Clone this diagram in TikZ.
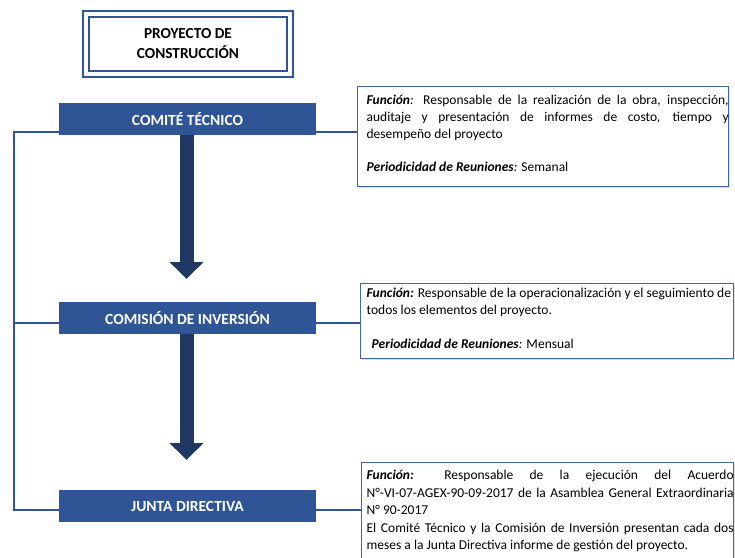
\documentclass[tikz,border=0pt]{standalone}
\usepackage{fontspec}
\setmainfont{Carlito}
\usetikzlibrary{arrows.meta,shadows}
\definecolor{hdblue}{HTML}{2F5597}
\definecolor{arrowblue}{HTML}{1F3864}
\definecolor{boxline}{HTML}{41689E}
\newcommand{\boxsetup}[1]{\hyphenpenalty=10000\exhyphenpenalty=10000\fontsize{13.5}{#1}\selectfont\parindent=0pt\leftskip=9pt\rightskip=0pt}
\begin{document}
\begin{tikzpicture}[x=1pt,y=-1pt,
  hdbox/.style={fill=hdblue, text=white, font=\fontsize{15.5}{17}\selectfont\bfseries, minimum width=257pt, minimum height=32pt, inner sep=0pt},
  titlebox/.style={draw=hdblue, line width=2pt, double=white, double distance=4pt, minimum width=204pt, minimum height=60pt, align=center, font=\fontsize{15.3}{20}\selectfont\bfseries, inner sep=0pt},
  link/.style={draw=hdblue, line width=2.7pt},
  bigarrow/.style={draw=arrowblue, line width=14pt, -{Triangle[width=33pt,length=17pt]}},
  infobox/.style={draw=boxline, line width=1.3pt, anchor=north west, inner sep=0pt, fill=white, drop shadow={shadow xshift=1pt, shadow yshift=-1.2pt, opacity=0.25}}
]
\useasboundingbox (0,0) rectangle (735,557);

\node[titlebox] (title) at (188,43.5) {PROYECTO DE\\CONSTRUCCIÓN};

\node[hdbox] (ct) at (187.5,119) {COMITÉ TÉCNICO};
\node[hdbox] (ci) at (187.5,318) {COMISIÓN DE INVERSIÓN};
\node[hdbox] (jd) at (187.5,506) {JUNTA DIRECTIVA};

\coordinate (a1) at (186.5,279);
\coordinate (a2) at (186.5,460);
\draw[bigarrow] (ct.south -| a1) -- (a1);
\draw[bigarrow] (ci.south -| a2) -- (a2);

\node[infobox] (i1) at (357,86) {\begin{minipage}[c][100pt][t]{400pt}\boxsetup{16.7}\hsize=371pt
\leavevmode\rule{0pt}{18pt}\textbf{\textit{Función}}\textit{:} Responsable de la realización de la obra, inspección,\linebreak auditaje y presentación de informes de costo, tiempo y\linebreak desempeño del proyecto\par
\leavevmode\par
\textbf{\textit{Periodicidad de Reuniones}}\textit{:} Semanal\par
\end{minipage}};

\node[infobox] (i2) at (360,283) {\begin{minipage}[c][75pt][t]{400pt}\boxsetup{17}\hsize=373pt\leftskip=6pt
\leavevmode\rule{0pt}{14pt}\textbf{\textit{Función:}} Responsable de la operacionalización y el seguimiento de\\ todos los elementos del proyecto.\par
\leavevmode\par
\hspace*{5pt}\textbf{\textit{Periodicidad de Reuniones}}\textit{:} Mensual\par
\end{minipage}};

\node[infobox] (i3) at (361,462) {\begin{minipage}[c][140pt][t]{400pt}\boxsetup{17.5}\hsize=372pt\leftskip=5pt
\leavevmode\rule{0pt}{17pt}\textbf{\textit{Función:}} Responsable de la ejecución del Acuerdo\linebreak N°-VI-07-AGEX-90-09-2017 de la Asamblea General Extraordinaria\linebreak N° 90-2017\par
El Comité Técnico y la Comisión de Inversión presentan cada dos\linebreak meses a la Junta Directiva informe de gestión del proyecto.\par
\end{minipage}};

\coordinate (lb) at (14,510);
\draw[link] ([yshift=-13pt]ct.west) -| (lb) -- ([yshift=-4pt]jd.west);
\draw[link] ([yshift=-5pt]ci.west) -- ([yshift=-5pt]ci.west -| lb);
\draw[link] ([yshift=-13pt]ct.east) -- ([yshift=-13pt]ct.east -| i1.west);
\draw[link] ([yshift=-5pt]ci.east) -- ([yshift=-5pt]ci.east -| i2.west);
\draw[link] ([yshift=-4pt]jd.east) -- ([yshift=-4pt]jd.east -| i3.west);
\end{tikzpicture}
\end{document}
